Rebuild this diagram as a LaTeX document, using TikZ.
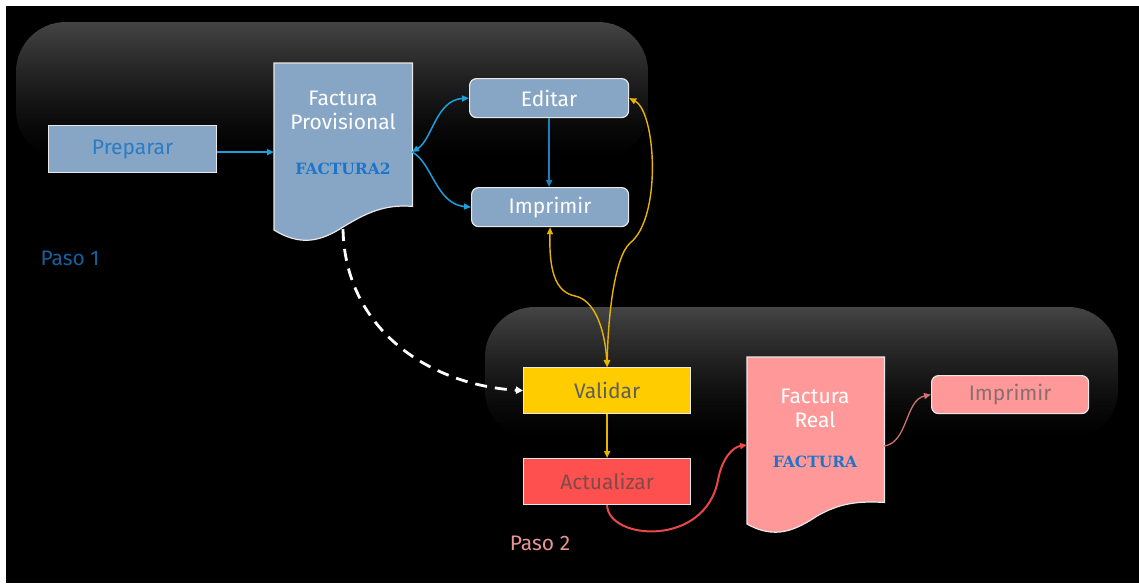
\documentclass[tikz,border=0pt]{standalone}
\usepackage{fontspec}
\setmainfont{Fira Sans}
\newfontfamily\slabfont{DejaVu Serif}
\usetikzlibrary{arrows.meta}

\definecolor{fadeA}{HTML}{444444}
\definecolor{steel}{HTML}{87A5C4}
\definecolor{linkblue}{HTML}{1CA0DC}
\definecolor{deepblue}{HTML}{1A82B8}
\definecolor{textblue}{HTML}{2A7CC4}
\definecolor{stepblue}{HTML}{1262A0}
\definecolor{gold}{HTML}{FFCC00}
\definecolor{goldline}{HTML}{E8B400}
\definecolor{coral}{HTML}{FF5050}
\definecolor{rose}{HTML}{FF9999}
\definecolor{redline}{HTML}{E84848}
\definecolor{roseline}{HTML}{D07070}
\definecolor{stepred}{HTML}{E89494}
\definecolor{docblue}{HTML}{1E74C8}
\definecolor{edgewhite}{HTML}{E8E8E8}
\definecolor{validgray}{HTML}{5F5F5F}
\definecolor{updtext}{HTML}{7F4A4A}
\definecolor{printtext}{HTML}{8C6C6C}

% a panel with rounded top corners, grey at its top edge and fading to black
% #1,#2 = left, top; #3,#4 = right, bottom (y grows downwards)
\newcommand\fadepanel[4]{%
  \begin{scope}
    \clip[rounded corners=50] (#1,#2) rectangle (#3,#4);
    \pgfmathtruncatemacro\nstrips{(#4-#2)/2}
    \foreach \i in {0,...,\nstrips} {
      \pgfmathtruncatemacro\pct{100*(1-\i/\nstrips)^1.4}
      \fill[fadeA!\pct!black] (#1,#2+2*\i) rectangle (#3,#2+2*\i+2.6);
    }
  \end{scope}}

\newcommand\lblsize{\fontsize{21}{24}\selectfont}

\tikzset{
  box/.style={draw=edgewhite, line width=1.2pt, inner sep=0pt, anchor=north west,
    font=\lblsize},
  rbox/.style={box, rounded corners=7},
  docbody/.style={draw=none, inner sep=0pt, anchor=north west},
  docsheet/.style={draw=edgewhite, line width=1.2pt},
  doclabel/.style={align=center, font=\lblsize, text=white},
  doctag/.style={font=\slabfont\bfseries\fontsize{15.5}{15.5}\selectfont, text=docblue},
  steplabel/.style={font=\lblsize},
  tip/.style={-{Triangle[length=7pt,width=6pt]}},
  twotip/.style={{Triangle[length=7pt,width=6pt]}-{Triangle[length=7pt,width=6pt]}},
}

\begin{document}
\begin{tikzpicture}[x=1pt,y=-1pt]
\useasboundingbox (0,0) rectangle (1139,584);
\fill[white] (0,0) rectangle (1139,584);
\fill[black] (6,6) rectangle (1139,583);

% step panels
\fadepanel{16}{22}{648}{160}
\fadepanel{485}{307}{1118}{440}

% step 1
\node[box, fill=steel, text=textblue, minimum width=168pt, minimum height=47pt] (pr) at (48,125) {Preparar};

\node[docbody, minimum width=138pt, minimum height=143pt] (fp) at (274,63) {};
\fill[steel] (fp.north west) -- (fp.north east) -- (fp.south east)
  .. controls (385,204) and (366,213) .. (343,227)
  .. controls (320,242) and (300,246) .. (274,230) -- cycle;
\draw[docsheet] (fp.north west) -- (fp.north east) -- (fp.south east)
  .. controls (385,204) and (366,213) .. (343,227)
  .. controls (320,242) and (300,246) .. (274,230) -- cycle;
\node[doclabel] (fpl) at (343,110) {Factura\\Provisional};
\node[doctag] (fpt) at (343,169) {FACTURA2};
\coordinate (fpE) at (412,152);
\coordinate (fpB) at (343,229);

\node[rbox, fill=steel, text=white, minimum width=159pt, minimum height=39pt] (ed) at (469,78) {Editar};
\node[rbox, fill=steel, text=white, minimum width=157pt, minimum height=39pt] (im1) at (471,187) {Imprimir};

\node[steplabel, text=stepblue] (p1) at (70,258) {Paso 1};

% step 2
\node[box, fill=gold, text=validgray, minimum width=167pt, minimum height=46pt] (vd) at (523,367) {Validar};
\node[box, fill=coral, text=updtext, minimum width=167pt, minimum height=46pt] (ac) at (523,458) {Actualizar};

\node[docbody, minimum width=137pt, minimum height=145pt] (fr) at (747,357) {};
\fill[rose] (fr.north west) -- (fr.north east) -- (fr.south east)
  .. controls (858,501) and (840,503) .. (817,516)
  .. controls (796,530) and (775,540) .. (747,524) -- cycle;
\draw[docsheet] (fr.north west) -- (fr.north east) -- (fr.south east)
  .. controls (858,501) and (840,503) .. (817,516)
  .. controls (796,530) and (775,540) .. (747,524) -- cycle;
\node[doclabel] (frl) at (815,408) {Factura\\Real};
\node[doctag] (frt) at (815,462) {FACTURA};
\coordinate (frW) at (747,445);
\coordinate (frE) at (884,446);

\node[rbox, fill=rose, text=printtext, minimum width=157pt, minimum height=38pt] (im2) at (931,375) {Imprimir};

\node[steplabel, text=stepred] (p2) at (540,543) {Paso 2};

% connectors of step 1
\draw[tip, linkblue, line width=1.8pt] ([yshift=-3pt]pr.east) -- ([yshift=-3pt]pr.east -| fp.west);
\draw[twotip, linkblue, line width=1.5pt] (fpE) .. controls (432,140) and (436,100) .. (ed.west);
\draw[tip, linkblue, line width=1.5pt] (fpE) .. controls (432,162) and (436,204) .. (im1.west);
\draw[tip, deepblue, line width=1.5pt] (ed.south) -- (ed.south |- im1.north);

% links between the steps
\draw[twotip, goldline, line width=1.4pt] (vd.north)
  .. controls (608,318) and (614,258) .. (630,243)
  .. controls (662,218) and (656,112) .. (ed.east);
\draw[twotip, goldline, line width=1.4pt] (vd.north)
  .. controls (605,330) and (595,300) .. (575,296)
  .. controls (555,292) and (549,270) .. (im1.south);
\draw[white, line width=2.8pt, dash pattern=on 12pt off 8pt,
  -{Triangle[length=7pt,width=7pt]}] (fpB) .. controls (345,330) and (430,385) .. (vd.west);

% connectors of step 2
\draw[tip, goldline, line width=1.6pt] (vd.south) -- (ac.north);
\draw[tip, redline, line width=2pt] (ac.south)
  .. controls (608,540) and (705,548) .. (718,480)
  .. controls (722,458) and (733,447) .. (frW);
\draw[tip, roseline, line width=1.3pt] (frE) .. controls (908,443) and (905,400) .. (im2.west);
\end{tikzpicture}
\end{document}
